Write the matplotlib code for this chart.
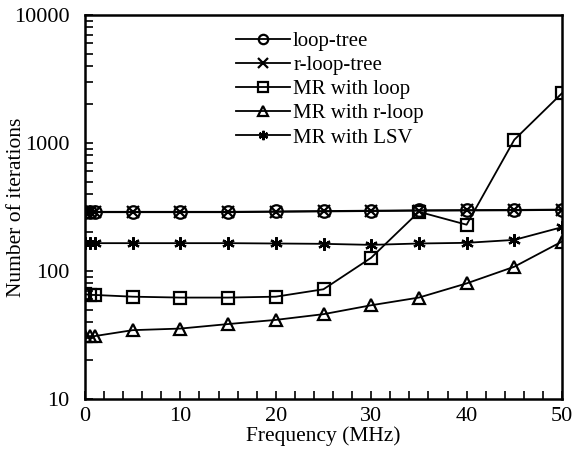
import matplotlib
matplotlib.use("Agg")
import matplotlib.pyplot as plt
from matplotlib.ticker import MultipleLocator, FixedLocator, NullFormatter, LogLocator

plt.rcParams['font.family'] = ['Liberation Serif', 'DejaVu Serif']

freq = [0, 0.5, 1, 5, 10, 15, 20, 25, 30, 35, 40, 45, 50]
loop_tree = [290, 290, 290, 290, 290, 290, 292, 294, 296, 298, 299, 300, 302]
r_loop_tree = [288, 288, 288, 288, 288, 288, 290, 292, 294, 296, 297, 298, 300]
mr_loop = [66, 65, 65, 63, 62, 62, 63, 72, 127, 290, 230, 1060, 2450]
mr_rloop = [31, 31, 31, 34.5, 35.5, 38.5, 41.5, 46, 54, 62, 80, 108, 170]
mr_lsv = [165, 165, 165, 165, 165, 165, 164, 163, 160, 164, 166, 175, 220]

series = [
    ("loop-tree", loop_tree, "o"),
    ("r-loop-tree", r_loop_tree, "x"),
    ("MR with loop", mr_loop, "s"),
    ("MR with r-loop", mr_rloop, "^"),
    ("MR with LSV", mr_lsv, (6, 2, 0)),
]

fig = plt.figure(figsize=(5.74, 4.65), dpi=100)
ax = fig.add_axes([85/574, 1-399/465, (562-85)/574, (399-15)/465])

for name, vals, m in series:
    ax.plot(freq, vals, color='black', linewidth=1.3, marker=m, markersize=9,
            markerfacecolor='none', markeredgecolor='black', markeredgewidth=1.6,
            label=name)

ax.set_yscale('log')
ax.set_xlim(0, 50)
ax.set_ylim(10, 10000)
ax.xaxis.set_major_locator(MultipleLocator(10))
ax.xaxis.set_minor_locator(MultipleLocator(2))
ax.yaxis.set_major_locator(FixedLocator([10, 100, 1000, 10000]))
ax.set_yticklabels(['10', '100', '1000', '10000'])
ax.yaxis.set_minor_locator(LogLocator(base=10, subs=range(2, 10)))
ax.yaxis.set_minor_formatter(NullFormatter())
ax.tick_params(which='both', direction='in', width=1.2, labelsize=16)
ax.tick_params(which='major', length=6)
ax.tick_params(which='minor', length=6)
ax.tick_params(axis='x', pad=6)
ax.tick_params(axis='y', pad=11)
for s in ax.spines.values():
    s.set_linewidth(1.8)

ax.set_xlabel('Frequency (MHz)', fontsize=15.5)
ax.xaxis.set_label_coords(0.5, (399-426)/384)
ax.set_ylabel('Number of iterations', fontsize=15.5, va='center')
ax.yaxis.set_label_coords(-(85-17)/477, 0.5)

ax.legend(loc='upper left', bbox_to_anchor=(0.29, 0.99), frameon=False, fontsize=15,
          handlelength=2.6, handletextpad=0.15, labelspacing=0.22, borderaxespad=0.2,
          markerscale=0.75)

fig.savefig('out.png', dpi=100)
